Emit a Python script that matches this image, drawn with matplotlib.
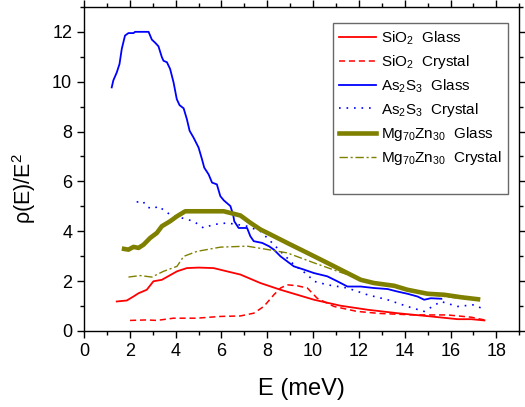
import numpy as np
import matplotlib
matplotlib.use("Agg")
import matplotlib.pyplot as plt
from matplotlib.ticker import MultipleLocator

plt.rcParams['font.family'] = ['Liberation Sans', 'DejaVu Sans']
plt.rcParams['mathtext.fontset'] = 'custom'
plt.rcParams['mathtext.rm'] = 'Liberation Sans'
plt.rcParams['mathtext.default'] = 'regular'

# SiO2 glass (solid red)
sio2_g_x = [1.43, 1.87, 2.16, 2.38, 2.74, 3.03, 3.40, 4.06, 4.49, 5.0, 5.66, 6.24, 6.83, 7.70,
            8.58, 9.31, 10.04, 11.2, 12.37, 13.68, 15.14, 16.31, 16.9, 17.48]
sio2_g_y = [1.18, 1.22, 1.38, 1.51, 1.65, 1.99, 2.05, 2.39, 2.52, 2.54, 2.52, 2.39, 2.26, 1.92,
            1.65, 1.45, 1.25, 1.01, 0.85, 0.71, 0.58, 0.47, 0.47, 0.42]
# SiO2 crystal (dashed red)
sio2_c_x = [2.01, 2.74, 3.18, 3.91, 4.93, 5.95, 6.83, 7.41, 7.85, 8.29, 8.58, 8.87, 9.31, 9.75,
            10.18, 10.91, 11.93, 12.9, 14.41, 15.87, 16.9, 17.48]
sio2_c_y = [0.42, 0.44, 0.42, 0.51, 0.51, 0.58, 0.60, 0.71, 0.98, 1.45, 1.72, 1.85, 1.81, 1.72,
            1.31, 0.98, 0.78, 0.70, 0.64, 0.64, 0.55, 0.44]
# As2S3 glass (solid blue)
as_g_x = [1.21, 1.28, 1.43, 1.55, 1.65, 1.79, 1.94, 2.16, 2.23, 2.82, 2.96, 3.11, 3.25, 3.40,
          3.47, 3.62, 3.76, 3.91, 4.05, 4.17, 4.35, 4.49, 4.61, 4.78, 5.0, 5.15, 5.25, 5.44,
          5.59, 5.80, 5.95, 6.10, 6.39, 6.51, 6.56, 6.75, 7.12, 7.26, 7.41, 7.78, 8.07, 8.29,
          8.58, 8.87, 9.16, 9.60, 10.04, 10.62, 11.06, 11.50, 12.08, 12.66, 13.25, 13.68,
          14.12, 14.56, 14.85, 15.14, 15.6]
as_g_y = [9.77, 10.05, 10.37, 10.71, 11.32, 11.85, 11.95, 11.95, 12.0, 12.0, 11.69, 11.56, 11.42,
          10.98, 10.84, 10.78, 10.51, 9.97, 9.30, 9.06, 8.93, 8.50, 8.03, 7.76, 7.36, 6.89, 6.55,
          6.28, 5.95, 5.88, 5.41, 5.24, 5.01, 4.67, 4.40, 4.13, 4.13, 3.80, 3.60, 3.53, 3.40,
          3.26, 2.99, 2.79, 2.59, 2.46, 2.32, 2.19, 1.99, 1.78, 1.78, 1.72, 1.68, 1.58, 1.49,
          1.38, 1.25, 1.31, 1.29]
# As2S3 crystal (dotted blue)
as_c_x = [2.30, 2.57, 2.74, 3.03, 3.25, 3.54, 3.76, 4.20, 4.78, 5.22, 5.66, 6.24, 6.68, 7.12,
          7.70, 8.14, 8.58, 9.16, 9.75, 10.04, 10.62, 11.50, 12.37, 13.25, 14.12, 14.85, 15.58,
          16.31, 17.04, 17.48]
as_c_y = [5.17, 5.21, 4.97, 4.90, 5.01, 4.80, 4.67, 4.55, 4.40, 4.13, 4.27, 4.33, 4.27, 4.20,
          4.0, 3.60, 3.19, 2.66, 2.26, 1.99, 1.85, 1.72, 1.45, 1.25, 0.98, 0.78, 1.18, 0.98,
          1.05, 0.85]
# Mg70Zn30 glass (thick olive)
mg_g_x = [1.75, 1.94, 2.16, 2.38, 2.60, 2.89, 3.18, 3.40, 3.76, 4.06, 4.42, 6.10, 6.83, 7.26,
          7.70, 8.14, 8.87, 9.75, 10.62, 11.35, 12.08, 12.66, 13.54, 14.12, 15.0, 15.73, 16.46,
          17.2]
mg_g_y = [3.29, 3.26, 3.37, 3.33, 3.46, 3.73, 3.93, 4.20, 4.40, 4.60, 4.80, 4.80, 4.63, 4.34,
          4.07, 3.87, 3.53, 3.13, 2.73, 2.39, 2.05, 1.92, 1.81, 1.65, 1.49, 1.45, 1.35, 1.27]
# Mg70Zn30 crystal (dash-dot olive)
mg_c_x = [1.94, 2.45, 2.96, 3.47, 4.06, 4.35, 4.93, 5.95, 7.12, 7.85, 8.87, 10.04, 11.2, 12.4,
          13.6, 15.0, 16.2, 17.1]
mg_c_y = [2.16, 2.22, 2.16, 2.39, 2.59, 2.99, 3.19, 3.36, 3.40, 3.29, 3.13, 2.73, 2.35, 2.0,
          1.78, 1.46, 1.33, 1.25]

fig = plt.figure(figsize=(5.25, 4.07), dpi=100)
ax = fig.add_axes([0.16, 0.187, 0.829, 0.796])

ax.plot(sio2_g_x, sio2_g_y, color='#ff0000', lw=1.3, label='SiO$_2$  Glass')
ax.plot(sio2_c_x, sio2_c_y, color='#ff0000', lw=1.1, ls=(0, (4, 2.5)), label='SiO$_2$  Crystal')
ax.plot(as_g_x, as_g_y, color='#0000ff', lw=1.3, label='As$_2$S$_3$  Glass')
ax.plot(as_c_x, as_c_y, color='#0000ff', lw=1.2, ls=(0, (1, 3.5)), label='As$_2$S$_3$  Crystal')
ax.plot(mg_g_x, mg_g_y, color='#808000', lw=3.3, label='Mg$_{70}$Zn$_{30}$  Glass')
ax.plot(mg_c_x, mg_c_y, color='#808000', lw=1.0, ls=(0, (6, 2, 1.5, 2)), label='Mg$_{70}$Zn$_{30}$  Crystal')
ax.plot([], [], color='none', label=' ')

ax.set_xlim(0, 19)
ax.set_ylim(0, 13)
ax.xaxis.set_major_locator(MultipleLocator(2))
ax.xaxis.set_minor_locator(MultipleLocator(1))
ax.yaxis.set_major_locator(MultipleLocator(2))
ax.yaxis.set_minor_locator(MultipleLocator(1))
ax.tick_params(which='both', direction='out', top=True, right=True, labelsize=13, width=1)
ax.tick_params(which='major', length=5)
ax.tick_params(which='minor', length=3)
for s in ax.spines.values():
    s.set_linewidth(1)

ax.set_xlabel('E (meV)', fontsize=17)
ax.set_ylabel('ρ(E)/E$^2$', fontsize=15.5)
ax.xaxis.set_label_coords(0.5, -0.145)
ax.yaxis.set_label_coords(-0.105, 0.44)

leg = ax.legend(loc='upper right', bbox_to_anchor=(0.975, 0.951), borderaxespad=0,
                fontsize=11, frameon=True, fancybox=False, edgecolor='#444444',
                handlelength=2.4, labelspacing=0.4, borderpad=0.45, handletextpad=0.3)
leg.get_frame().set_linewidth(1)

fig.savefig('out.png', dpi=100)
